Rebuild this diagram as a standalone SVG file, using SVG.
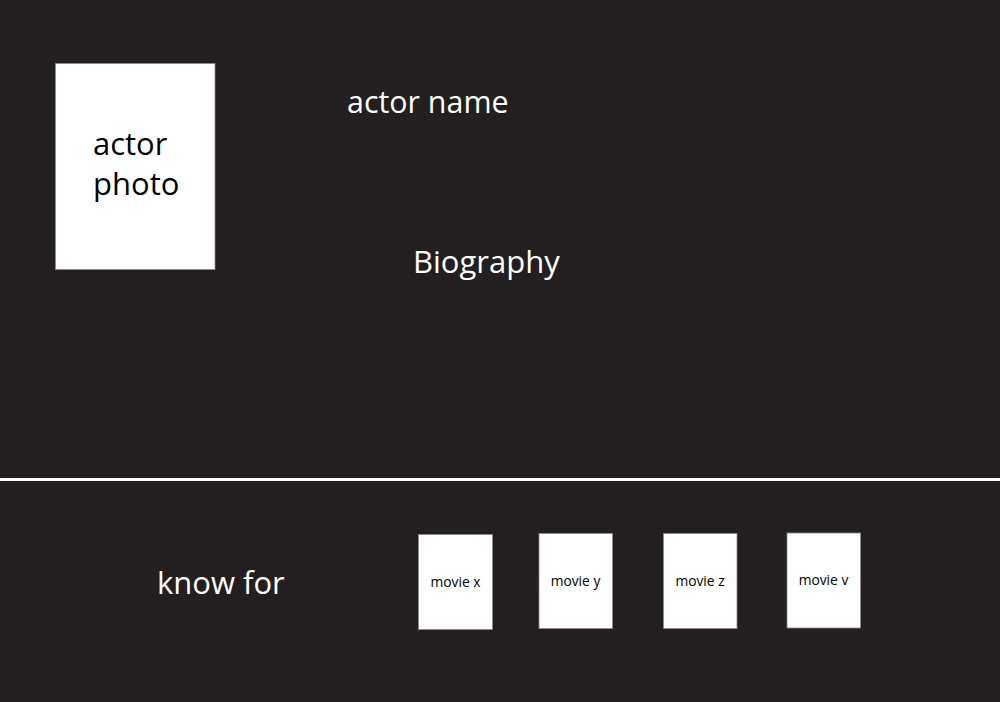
<svg xmlns="http://www.w3.org/2000/svg" width="1000" height="702" viewBox="0 0 1000 702">
<style>
.bg{fill:#231f20}
.card{fill:#ffffff;stroke:#8a8889;stroke-width:0.8}
.big{font-family:"Open Sans","Noto Sans",sans-serif;font-size:31px}
.small{font-family:"Open Sans","Noto Sans",sans-serif;font-size:13.8px;fill:#000}
.light{fill:#ffffff}
.dark{fill:#000000}
</style>
<rect class="bg" x="0" y="0" width="1000" height="702"/>
<g id="photo">
<rect class="card" x="55.5" y="63.5" width="159.5" height="206"/>
<text class="big dark" x="93" y="155">actor</text>
<text class="big dark" x="93" y="195">photo</text>
</g>
<g id="name"><text class="big light" x="347" y="113" style="font-size:30.4px">actor name</text></g>
<g id="bio"><text class="big light" x="413" y="273">Biography</text></g>
<g id="divider"><rect x="0" y="478" width="1000" height="3" fill="#ffffff"/></g>
<g id="knownfor"><text class="big light" x="157" y="594">know for</text></g>
<g id="movie-x">
<rect class="card" x="418.5" y="534.5" width="74" height="95"/>
<text class="small" x="455.5" y="587" text-anchor="middle">movie x</text>
</g>
<g id="movie-y">
<rect class="card" x="539" y="533.5" width="73.5" height="95"/>
<text class="small" x="575.5" y="586" text-anchor="middle">movie y</text>
</g>
<g id="movie-z">
<rect class="card" x="663.5" y="533.5" width="73.5" height="95"/>
<text class="small" x="700" y="586" text-anchor="middle">movie z</text>
</g>
<g id="movie-v">
<rect class="card" x="787" y="533" width="73.5" height="95"/>
<text class="small" x="823.5" y="585" text-anchor="middle">movie v</text>
</g>
<g id="connectors"></g>
</svg>
